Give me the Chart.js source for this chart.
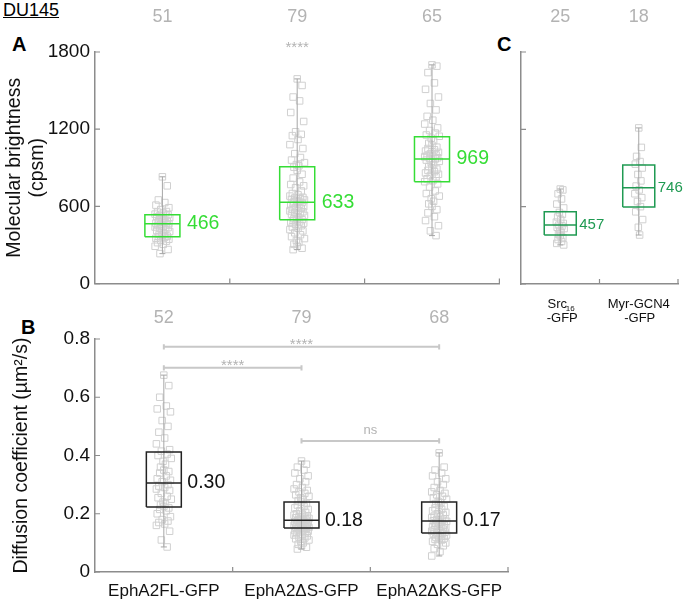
<!DOCTYPE html>
<html>
<head>
<meta charset="utf-8">
<script src="https://cdn.jsdelivr.net/npm/chart.js@4/dist/chart.umd.min.js"></script>
<style>
  body { margin: 0; background: #fff; width: 685px; height: 604px; position: relative; overflow: hidden;
         font-family: "Liberation Sans", Arial, sans-serif; color: #000; }
  .pane { position: absolute; }
  .tag { position: absolute; font-weight: bold; font-size: 20px; }
  #du { position: absolute; left: 3px; top: 0px; font-size: 18px; text-decoration: underline; }
</style>
</head>
<body>
<div id="du">DU145</div>
<div class="tag" style="left:12px;top:33px">A</div>
<div class="tag" style="left:21px;top:316px">B</div>
<div class="tag" style="left:497px;top:33px">C</div>

<div class="pane" style="left:0;top:0"><canvas id="brightChart" width="505" height="300"></canvas></div>
<div class="pane" style="left:500px;top:0"><canvas id="ctrlChart" width="185" height="340"></canvas></div>
<div class="pane" style="left:0;top:300px"><canvas id="diffChart" width="520" height="304"></canvas></div>

<script>
// ---- data ----
const brightCats = ['EphA2FL-GFP', 'EphA2\u0394S-GFP', 'EphA2\u0394KS-GFP'];
const brightCounts = [51, 79, 65];
const brightFL = [830, 760, 650, 630, 610, 590, 575, 560, 555, 548, 540, 535, 530, 525, 520, 512, 505, 500, 495, 490,
  485, 480, 475, 470, 466, 462, 458, 452, 447, 440, 435, 428, 420, 412, 405, 398, 390, 382, 375, 368,
  365, 360, 352, 345, 338, 330, 318, 305, 290, 265, 233];
const brightS = [1591, 1540, 1450, 1420, 1330, 1260, 1180, 1160, 1150, 1120, 1080, 1050, 1010, 980, 960, 940, 925, 915, 905,
  880, 850, 820, 790, 770, 760, 745, 720, 700, 690, 680, 670, 665, 660, 655, 650, 645, 640, 636, 633,
  630, 625, 615, 605, 598, 590, 585, 578, 570, 565, 558, 550, 545, 540, 530, 520, 512, 505, 500, 497,
  490, 480, 475, 470, 460, 450, 440, 430, 420, 410, 395, 380, 365, 350, 335, 320, 305, 290, 275, 264];
const brightKS = [1700, 1690, 1640, 1560, 1510, 1450, 1400, 1350, 1300, 1270, 1240, 1210, 1190, 1170, 1155, 1145,
  1130, 1110, 1090, 1075, 1060, 1050, 1040, 1030, 1020, 1010, 1000, 995, 990, 985, 978, 972, 969,
  960, 950, 940, 925, 910, 900, 890, 880, 870, 860, 850, 840, 830, 815, 800, 792,
  775, 750, 720, 700, 680, 660, 640, 620, 600, 575, 550, 520, 490, 450, 410, 373];
const brightQ1 = [365, 497, 792];
const brightMed = [466, 633, 969];
const brightQ3 = [535, 908, 1141];
const brightLo = [233, 264, 373];
const brightHi = [830, 1591, 1700];
const brightLabels = ['466', '633', '969'];

const ctrlCounts = [25, 18];
const ctrlSrc = [737, 730, 700, 660, 620, 590, 555, 540, 520, 500, 480, 470, 457, 450, 440, 430, 415, 400, 385,
  375, 360, 345, 330, 315, 303];
const ctrlMyr = [1211, 1060, 990, 950, 930, 900, 850, 800, 760, 730, 700, 670, 640, 600, 560, 500, 440, 380];
const ctrlQ1 = [380, 598];
const ctrlMed = [457, 746];
const ctrlQ3 = [560, 924];
const ctrlLo = [303, 380];
const ctrlHi = [737, 1211];
const ctrlLabels = ['457', '746'];

const diffCats = brightCats;
const diffCounts = [52, 79, 68];
const diffFL = [0.676, 0.64, 0.60, 0.57, 0.56, 0.55, 0.52, 0.50, 0.48, 0.46, 0.44, 0.42, 0.415,
  0.405, 0.40, 0.39, 0.38, 0.37, 0.36, 0.35, 0.345, 0.34, 0.33, 0.32, 0.315, 0.31,
  0.30, 0.295, 0.29, 0.285, 0.28, 0.27, 0.26, 0.255, 0.25, 0.24, 0.235, 0.23, 0.225,
  0.22, 0.215, 0.21, 0.20, 0.19, 0.18, 0.175, 0.17, 0.165, 0.16, 0.14, 0.11, 0.086];
const diffS = [0.381, 0.37, 0.36, 0.35, 0.34, 0.33, 0.32, 0.31, 0.30, 0.29, 0.285, 0.28, 0.275, 0.27, 0.265, 0.26, 0.255, 0.25, 0.245, 0.24,
  0.235, 0.23, 0.225, 0.22, 0.215, 0.21, 0.205, 0.20, 0.198, 0.195, 0.192, 0.19, 0.188, 0.186, 0.184, 0.182, 0.18, 0.179, 0.178, 0.178,
  0.176, 0.174, 0.172, 0.17, 0.168, 0.166, 0.164, 0.162, 0.16, 0.158, 0.156, 0.155, 0.154, 0.153, 0.152, 0.151, 0.151, 0.15, 0.15,
  0.148, 0.145, 0.142, 0.14, 0.138, 0.135, 0.132, 0.13, 0.127, 0.124, 0.12, 0.117, 0.114, 0.11, 0.105, 0.10, 0.095, 0.09, 0.085, 0.079];
const diffKS = [0.409, 0.36, 0.35, 0.34, 0.33, 0.32, 0.31, 0.30, 0.29, 0.28, 0.275, 0.27, 0.265, 0.26, 0.255, 0.25, 0.242,
  0.238, 0.235, 0.23, 0.225, 0.22, 0.215, 0.21, 0.205, 0.20, 0.196, 0.192, 0.19, 0.186, 0.183, 0.18, 0.178, 0.176,
  0.174, 0.172, 0.17, 0.168, 0.165, 0.162, 0.16, 0.157, 0.155, 0.152, 0.15, 0.147, 0.145, 0.142, 0.14, 0.137, 0.135,
  0.132, 0.13, 0.127, 0.125, 0.122, 0.12, 0.117, 0.115, 0.112, 0.11, 0.105, 0.10, 0.095, 0.09, 0.08, 0.07, 0.055];
const diffQ1 = [0.223, 0.151, 0.134];
const diffMed = [0.306, 0.178, 0.175];
const diffQ3 = [0.412, 0.240, 0.240];
const diffLo = [0.086, 0.079, 0.055];
const diffHi = [0.676, 0.381, 0.409];
const diffLabels = ['0.30', '0.18', '0.17'];

const bracketFrom = [1, 1, 2];
const bracketTo = [3, 2, 3];
const bracketY = [0.773, 0.701, 0.45];
const bracketText = ['****', '****', 'ns'];

// horizontal spread of the dots, in category units
const JITTER = [0, 0.06, -0.05, 0.03, -0.08, 0.08, -0.02, 0.05, -0.06, 0.01, -0.09, 0.07, -0.03, 0.04, -0.07, 0.09, -0.01, 0.02, -0.04];

// ---- style ----
const FONT = '"Liberation Sans", Arial, sans-serif';
const AXIS = '#8c8c8c';
const DOT = '#d0d0d0';
const WHISK = '#a6a6a6';
const COUNT = '#b3b3b3';
const GREEN = '#35dd35';
const DKGREEN = '#1f9a52';
const INK = '#111';

Chart.defaults.font.family = FONT;
Chart.defaults.color = INK;

const notes = {
  id: 'notes',
  afterDatasetsDraw(chart, args, opts) {
    const { ctx, scales: { x, y } } = chart;
    (opts.items || []).forEach(n => {
      ctx.save();
      ctx.font = n.font;
      ctx.fillStyle = n.color;
      ctx.textAlign = n.align || 'center';
      ctx.textBaseline = n.base || 'middle';
      const px = x.getPixelForValue(n.x) + (n.dx || 0);
      const py = n.y !== undefined ? y.getPixelForValue(n.y) + (n.dy || 0) : n.py;
      ctx.fillText(n.text, px, py);
      ctx.restore();
    });
  }
};

const inwardTicks = {
  id: 'inwardTicks',
  afterDraw(chart, args, opts) {
    const { ctx, chartArea: a, scales: { x, y } } = chart;
    ctx.save();
    ctx.strokeStyle = AXIS;
    ctx.lineWidth = 1.2;
    ctx.beginPath();
    (opts.xAt || []).forEach(v => {
      const px = x.getPixelForValue(v);
      ctx.moveTo(px, a.bottom);
      ctx.lineTo(px, a.bottom - 5);
    });
    y.ticks.forEach(t => {
      const py = y.getPixelForValue(t.value);
      ctx.moveTo(a.left, py);
      ctx.lineTo(a.left + 5, py);
    });
    ctx.stroke();
    ctx.restore();
  }
};

function line(pts, color, w, order) {
  return { data: pts, showLine: true, borderColor: color, borderWidth: w, pointRadius: 0,
           pointHoverRadius: 0, fill: false, tension: 0, order: order };
}

function groupSets(groups, st, color, half, cap, jit) {
  const sets = [];
  groups.forEach((vals, g) => {
    const c = g + 1;
    sets.push({
      data: vals.map((v, k) => ({ x: c + JITTER[k % JITTER.length] * jit, y: v })),
      pointStyle: 'rect', pointRadius: 4.6, pointHoverRadius: 4.6, borderColor: DOT,
      backgroundColor: 'rgba(0,0,0,0)', borderWidth: 1, showLine: false, order: 3
    });
    sets.push(line([{ x: c, y: st.lo[g] }, { x: c, y: st.hi[g] }], WHISK, 1, 2));
    sets.push(line([{ x: c - cap, y: st.lo[g] }, { x: c + cap, y: st.lo[g] }], WHISK, 1, 2));
    sets.push(line([{ x: c - cap, y: st.hi[g] }, { x: c + cap, y: st.hi[g] }], WHISK, 1, 2));
    sets.push(line([
      { x: c - half, y: st.q1[g] }, { x: c + half, y: st.q1[g] }, { x: c + half, y: st.q3[g] },
      { x: c - half, y: st.q3[g] }, { x: c - half, y: st.q1[g] }
    ], color, 1.5, 0));
    sets.push(line([{ x: c - half, y: st.med[g] }, { x: c + half, y: st.med[g] }], color, 1.5, 0));
  });
  return sets;
}

function yAxis(min, max, step, width, showTicks, title, titlePad, fmt) {
  return {
    type: 'linear', min: min, max: max,
    ticks: { display: showTicks, stepSize: step, padding: 5, color: INK, font: { size: 19 }, callback: fmt },
    grid: { display: false, drawTicks: false },
    border: { display: true, color: AXIS, width: 1.5 },
    title: title ? { display: true, text: title, color: INK, font: { size: 19.5 }, padding: { top: titlePad, bottom: 0 } } : { display: false },
    afterFit: s => { s.width = width; }
  };
}

function xAxis(max, height, extra) {
  return Object.assign({
    type: 'linear', min: 0.5, max: max,
    ticks: { display: false },
    grid: { display: false, drawTicks: false },
    border: { display: true, color: AXIS, width: 1.5 },
    afterFit: s => { s.height = height; }
  }, extra || {});
}

const common = { responsive: false, animation: false, events: [] };

// ---- A: molecular brightness ----
const brightItems = [];
brightCounts.forEach((n, i) => brightItems.push({ x: i + 1, py: 17, text: String(n), color: COUNT, font: '18px ' + FONT }));
brightLabels.forEach((t, i) => brightItems.push({ x: i + 1 + 0.13, dx: 7, y: brightMed[i], text: t, color: GREEN, font: '19.5px ' + FONT, align: 'left' }));
brightItems.push({ x: 2, py: 52, text: '****', color: COUNT, font: '15px ' + FONT, base: 'alphabetic' });

new Chart(document.getElementById('brightChart'), {
  type: 'scatter',
  data: { datasets: groupSets([brightFL, brightS, brightKS],
    { q1: brightQ1, med: brightMed, q3: brightQ3, lo: brightLo, hi: brightHi }, GREEN, 0.13, 0.022, 0.6) },
  options: Object.assign({}, common, {
    layout: { padding: { left: 0, top: 52, right: 5, bottom: 16 } },
    scales: {
      x: xAxis(3.5, 0),
      y: yAxis(0, 1800, 600, 95, true, ['Molecular brightness', '(cpsm)'], 3)
    },
    plugins: { legend: { display: false }, tooltip: { enabled: false },
      notes: { items: brightItems }, inwardTicks: { xAt: [1.5, 2.5, 3.5] } }
  }),
  plugins: [notes, inwardTicks]
});

// ---- C: controls ----
const ctrlItems = [];
ctrlCounts.forEach((n, i) => ctrlItems.push({ x: i + 1, py: 17, text: String(n), color: COUNT, font: '18px ' + FONT }));
ctrlLabels.forEach((t, i) => ctrlItems.push({ x: i + 1 + 0.204, dx: 3, y: ctrlMed[i], text: t, color: DKGREEN, font: '15px ' + FONT, align: 'left' }));
ctrlItems.push({ x: 1, dx: -3, py: 304, text: 'Src', color: INK, font: '13px ' + FONT });
ctrlItems.push({ x: 1, dx: 10, py: 309, text: '16', color: INK, font: '8px ' + FONT });
ctrlItems.push({ x: 1, dx: 2, py: 318, text: '-GFP', color: INK, font: '13px ' + FONT });
ctrlItems.push({ x: 2, py: 304, text: 'Myr-GCN4', color: INK, font: '13px ' + FONT });
ctrlItems.push({ x: 2, dx: 1, py: 318, text: '-GFP', color: INK, font: '13px ' + FONT });

new Chart(document.getElementById('ctrlChart'), {
  type: 'scatter',
  data: { datasets: groupSets([ctrlSrc, ctrlMyr],
    { q1: ctrlQ1, med: ctrlMed, q3: ctrlQ3, lo: ctrlLo, hi: ctrlHi }, DKGREEN, 0.204, 0.038, 0.55) },
  options: Object.assign({}, common, {
    layout: { padding: { left: 0, top: 52, right: 7, bottom: 0 } },
    scales: {
      x: xAxis(2.5, 56),
      y: yAxis(0, 1800, 600, 21, false, null, 0)
    },
    plugins: { legend: { display: false }, tooltip: { enabled: false },
      notes: { items: ctrlItems }, inwardTicks: { xAt: [1.5, 2.5] } }
  }),
  plugins: [notes, inwardTicks]
});

// ---- B: diffusion coefficient ----
const diffItems = [];
diffCounts.forEach((n, i) => diffItems.push({ x: i + 1, py: 18, text: String(n), color: COUNT, font: '18px ' + FONT }));
diffLabels.forEach((t, i) => diffItems.push({ x: i + 1 + 0.127, dx: 6, y: diffMed[i], text: t, color: INK, font: '19.5px ' + FONT, align: 'left' }));
bracketText.forEach((t, i) => diffItems.push({
  x: (bracketFrom[i] + bracketTo[i]) / 2, y: bracketY[i], dy: t === 'ns' ? -7 : 2, text: t,
  color: COUNT, font: (t === 'ns' ? '13px ' : '15px ') + FONT, base: 'alphabetic'
}));

const diffSets = groupSets([diffFL, diffS, diffKS],
  { q1: diffQ1, med: diffMed, q3: diffQ3, lo: diffLo, hi: diffHi }, '#222', 0.127, 0.022, 0.6);
bracketY.forEach((h, i) => {
  const a = bracketFrom[i], b = bracketTo[i], d = 0.009;
  diffSets.push(line([
    { x: a, y: h + d }, { x: a, y: h - d }, { x: a, y: h }, { x: b, y: h }, { x: b, y: h + d }, { x: b, y: h - d }
  ], '#c8c8c8', 2, 4));
});

new Chart(document.getElementById('diffChart'), {
  type: 'scatter',
  data: { datasets: diffSets },
  options: Object.assign({}, common, {
    layout: { padding: { left: 0, top: 39, right: 12, bottom: 0 } },
    scales: {
      x: xAxis(3.5, 32, {
        ticks: { display: true, autoSkip: false, maxRotation: 0, padding: 9, color: INK, font: { size: 17 },
                 callback: (v, i) => diffCats[i] },
        afterBuildTicks: s => { s.ticks = [1, 2, 3].map(v => ({ value: v })); }
      }),
      y: yAxis(0, 0.8, 0.2, 95, true, 'Diffusion coefficient (\u00b5m\u00b2/s)', 10,
               v => (v === 0 ? '0' : v.toFixed(1)))
    },
    plugins: { legend: { display: false }, tooltip: { enabled: false },
      notes: { items: diffItems }, inwardTicks: { xAt: [1.5, 2.5, 3.5] } }
  }),
  plugins: [notes, inwardTicks]
});
</script>
</body>
</html>
